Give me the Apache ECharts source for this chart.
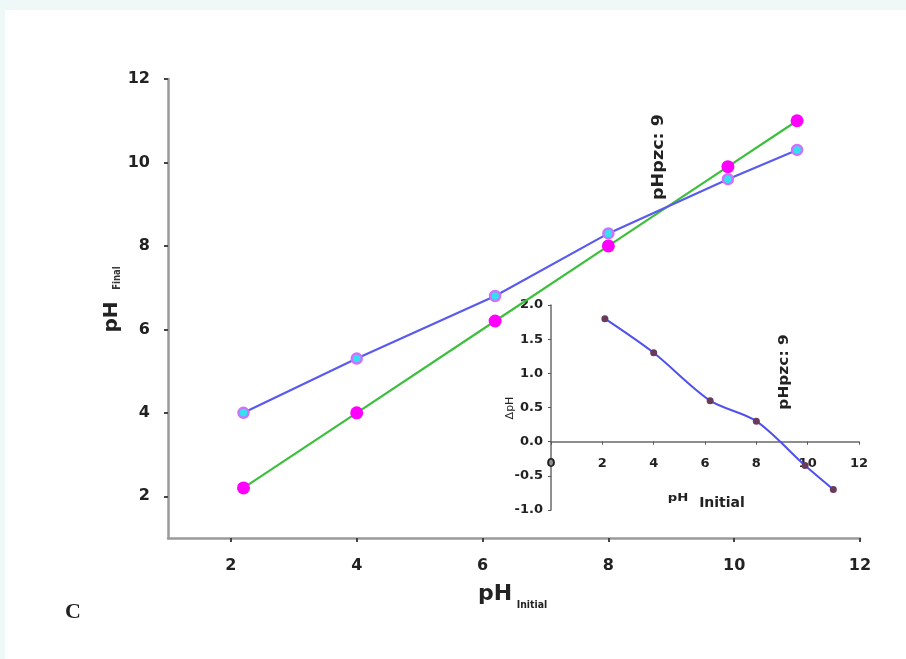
<!DOCTYPE html>
<html>
<head>
<meta charset="utf-8">
<script src="https://cdn.jsdelivr.net/npm/echarts@6/dist/echarts.min.js"></script>
<style>
html,body{margin:0;padding:0;background:#eef8f6;}
#wrap{position:absolute;left:5px;top:10px;width:901px;height:649px;background:#fff;}
#chart{position:absolute;left:0;top:0;width:906px;height:659px;}
</style>
</head>
<body>
<div id="wrap"></div>
<div id="chart"></div>
<script>
// Main chart data
const pHInitial = [2.2, 4.0, 6.2, 8.0, 9.9, 11.0];
const pHFinal = [4.0, 5.3, 6.8, 8.3, 9.6, 10.3];
const pHReference = [2.2, 4.0, 6.2, 8.0, 9.9, 11.0];
// Inset data
const insetPHInitial = [2.1, 4.0, 6.2, 8.0, 9.9, 11.0];
const deltaPH = [1.8, 1.3, 0.6, 0.3, -0.35, -0.7];
// Tick labels
const mainTicks = [2, 4, 6, 8, 10, 12];

const pairs = (xs, ys) => xs.map((x, i) => [x, ys[i]]);

const chart = echarts.init(document.getElementById('chart'), null, {renderer: 'canvas'});
const FONT = 'DejaVu Sans, Liberation Sans, Arial, sans-serif';
const lab = {color: '#222', fontWeight: 'bold', fontFamily: FONT};

const option = {
  backgroundColor: 'transparent',
  animation: false,
  grid: [
    {left: 168, right: 46, top: 79, bottom: 121},
    {left: 551, right: 47, top: 305, bottom: 149}
  ],
  xAxis: [
    {
      gridIndex: 0, type: 'value', min: 1, max: 12,
      splitLine: {show: false},
      axisLine: {onZero: false, lineStyle: {color: '#9a9a9a', width: 2.5}},
      axisTick: {show: true, length: 4, customValues: mainTicks, lineStyle: {color: '#444', width: 2}},
      axisLabel: Object.assign({fontSize: 16, margin: 20, customValues: mainTicks}, lab)
    },
    {
      gridIndex: 1, type: 'value', min: 0, max: 12, interval: 2,
      splitLine: {show: false},
      axisLine: {onZero: true, lineStyle: {color: '#6a6a6a', width: 1.5}},
      axisTick: {show: true, length: 3, lineStyle: {color: '#555'}},
      axisLabel: Object.assign({fontSize: 13, margin: -53}, lab)
    }
  ],
  yAxis: [
    {
      gridIndex: 0, type: 'value', min: 1, max: 12,
      splitLine: {show: false},
      axisLine: {onZero: false, lineStyle: {color: '#9a9a9a', width: 2.5}},
      axisTick: {show: true, length: 4, customValues: mainTicks, lineStyle: {color: '#444', width: 2}},
      axisLabel: Object.assign({fontSize: 16, margin: 18, customValues: mainTicks}, lab)
    },
    {
      gridIndex: 1, type: 'value', min: -1, max: 2, interval: 0.5,
      splitLine: {show: false},
      axisLine: {onZero: false, lineStyle: {color: '#6a6a6a', width: 1.5}},
      axisTick: {show: true, length: 3, lineStyle: {color: '#555'}},
      axisLabel: Object.assign({fontSize: 13, margin: 8, formatter: v => v.toFixed(1)}, lab)
    }
  ],
  series: [
    {
      type: 'line', xAxisIndex: 0, yAxisIndex: 0,
      data: pairs(pHInitial, pHReference),
      lineStyle: {color: '#3cbf3c', width: 2.2},
      symbol: 'circle', symbolSize: 13,
      itemStyle: {color: '#ff00ff', borderWidth: 0},
      z: 2
    },
    {
      type: 'line', xAxisIndex: 0, yAxisIndex: 0,
      data: pairs(pHInitial, pHFinal),
      lineStyle: {color: '#5a5af0', width: 2.2},
      symbol: 'circle', symbolSize: 10,
      itemStyle: {color: '#33e0ee', borderColor: '#d070ff', borderWidth: 2.5},
      z: 3
    },
    {
      type: 'line', xAxisIndex: 1, yAxisIndex: 1,
      data: pairs(insetPHInitial, deltaPH),
      smooth: 0.3,
      lineStyle: {color: '#5050ee', width: 2},
      symbol: 'circle', symbolSize: 7,
      itemStyle: {color: '#6a3a5a', borderWidth: 0},
      z: 4
    }
  ],
  graphic: [
    {type: 'text', x: 495, y: 594, style: {text: 'pH', fontSize: 22, fontWeight: 'bold', fontFamily: FONT, fill: '#222', align: 'center', verticalAlign: 'middle'}},
    {type: 'text', x: 532, y: 605, scaleX: 0.85, style: {text: 'Initial', fontSize: 11, fontWeight: 'bold', fontFamily: FONT, fill: '#222', align: 'center', verticalAlign: 'middle'}},
    {type: 'text', x: 112, y: 317, rotation: Math.PI / 2, style: {text: 'pH', fontSize: 20, fontWeight: 'bold', fontFamily: FONT, fill: '#222', align: 'center', verticalAlign: 'middle'}},
    {type: 'text', x: 117, y: 278, rotation: Math.PI / 2, scaleX: 0.85, style: {text: 'Final', fontSize: 10, fontWeight: 'bold', fontFamily: FONT, fill: '#333', align: 'center', verticalAlign: 'middle'}},
    {type: 'text', x: 659, y: 157, rotation: Math.PI / 2, scaleX: 1.1, style: {text: 'pHpzc: 9', fontSize: 16, fontWeight: 'bold', fontFamily: FONT, fill: '#222', align: 'center', verticalAlign: 'middle'}},
    {type: 'text', x: 784, y: 372, rotation: Math.PI / 2, scaleX: 1.1, style: {text: 'pHpzc: 9', fontSize: 14, fontWeight: 'bold', fontFamily: FONT, fill: '#222', align: 'center', verticalAlign: 'middle'}},
    {type: 'text', x: 678, y: 498, scaleX: 1.2, style: {text: 'pH', fontSize: 11, fontWeight: 'bold', fontFamily: FONT, fill: '#222', align: 'center', verticalAlign: 'middle'}},
    {type: 'text', x: 722, y: 503, style: {text: 'Initial', fontSize: 14, fontWeight: 'bold', fontFamily: FONT, fill: '#222', align: 'center', verticalAlign: 'middle'}},
    {type: 'text', x: 510, y: 408, rotation: Math.PI / 2, style: {text: 'ΔpH', fontSize: 11, fontFamily: FONT, fill: '#222', align: 'center', verticalAlign: 'middle'}},
    {type: 'text', x: 73, y: 612, style: {text: 'C', fontSize: 22, fontWeight: 'bold', fontFamily: 'Liberation Serif, Times New Roman, serif', fill: '#222', align: 'center', verticalAlign: 'middle'}}
  ]
};
chart.setOption(option);
</script>
</body>
</html>
